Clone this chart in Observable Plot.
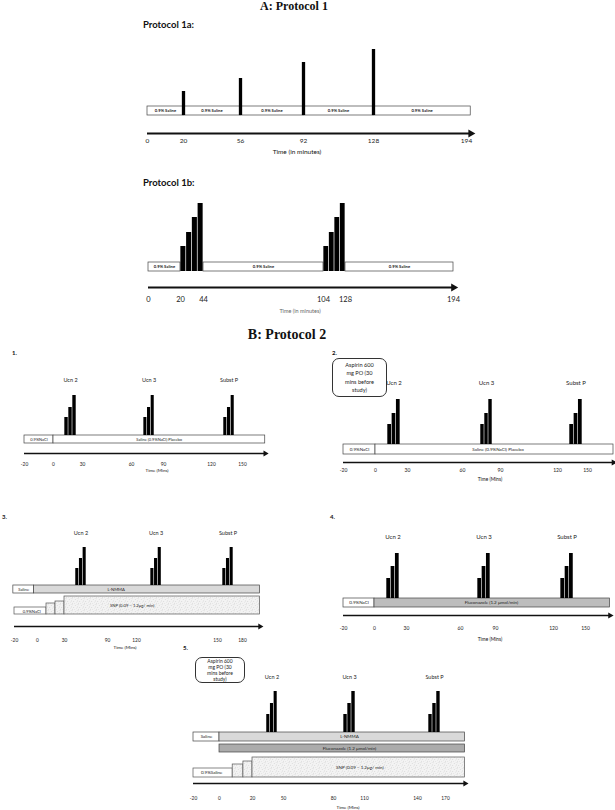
<!DOCTYPE html>
<html><head><meta charset="utf-8">
<script src="https://cdn.jsdelivr.net/npm/d3@7"></script>
<script src="https://cdn.jsdelivr.net/npm/@observablehq/plot@0.6"></script>
<style>
body{margin:0;background:#fff;}
#root{position:relative;width:615px;height:810px;overflow:hidden;background:#fff;font-family:Lato,"Open Sans",sans-serif;color:#111;}
.lbl{position:absolute;white-space:nowrap;transform:translate(-50%,-50%);line-height:1;}
.lbl.left{transform:translate(0,-50%);}
.ann{position:absolute;box-sizing:border-box;border:0.9px solid #333;border-radius:7px;display:flex;align-items:center;justify-content:center;text-align:center;color:#222;}
</style></head><body><div id="root"></div>
<script>
// ================= DATA =================
// Protocol 1a
const p1aTicks = [0, 20, 56, 92, 128, 194];
const p1aBolusTimes = [20, 56, 92, 128];
const p1aBolusHeights = [15, 28, 44, 57];
const p1aSalineBreaks = [0, 20, 56, 92, 128, 197];
const salineLabel = "0.9% Saline";
// Protocol 1b
const p1bTicks = [0, 20, 44, 104, 128, 194];
const p1bBlockStarts = [20, 104];
const p1bStepHeights = [16, 30, 45, 59];
const p1bStepMinutes = 6;
const p1bSalineSegments = [[0, 20], [44, 104], [128, 194]];
// Protocol 2
const agents = ["Ucn 2", "Ucn 3", "Subst P"];
const ticksB = [-20, 0, 30, 60, 90, 120, 150];
const ticks3 = [-20, 0, 30, 90, 120, 150, 180];
const ticks5 = [-20, 0, 20, 50, 80, 110, 140, 170];
// panel 1
const b1Groups = [[11.4, 23.8], [71.3, 81.6], [131.6, 142.3]];
const b1Heights = [18, 28, 40];
const b1Rows = [["0.9%NaCl", -20, 0], ["Saline (0.9%NaCl) Placebo", 0, 172]];
// panel 2
const b2Groups = [[11.25, 23.4], [74.2, 83.7], [132, 145]];
const b2Heights = [20, 31, 45];
const b2Rows = [["0.9%NaCl", -20, 0], ["Saline (0.9%NaCl) Placebo", 0, 176]];
// panel 3
const b3Groups = [[45.3, 60.7], [125.2, 129.3], [156, 169.2]];
const b3Heights = [17, 27, 38];
const b3Infusion = [["Saline", -21, -3], ["L-NMMA", -3, 201]];
const b3Snp = [["0.9%NaCl", -20, 10, 0], ["", 10, 20, 1], ["", 20, 30, 2], ["SNP (0.09 \u2013 1.2\u03bcg/ min)", 30, 201, 3]];
// panel 4
const b4Groups = [[11.25, 23.4], [74.6, 85.7], [126.6, 138.8]];
const b4Heights = [20, 32, 45];
const b4Rows = [["0.9%NaCl", -20, 0], ["Fluconazole (1.2 \u03bcmol/min)", 0, 173]];
// panel 5
const b5Groups = [[33.5, 44.2], [89.7, 101.3], [151.8, 164.6]];
const b5Heights = [18, 29, 41];
const b5Infusion = [["Saline", -20, 0], ["L-NMMA", 0, 191]];
const b5Fluconazole = [["Fluconazole (1.2 \u03bcmol/min)", 0, 191]];
const b5Snp = [["0.9%Saline", -20, 8, 0], ["", 8, 14.5, 1], ["", 14.5, 20, 2], ["SNP (0.09 \u2013 1.2\u03bcg/ min)", 20, 191, 3]];
const aspirinText = "Aspirin 600\nmg PO (30\nmins before\nstudy)";

// ================= HELPERS =================
const root = document.getElementById("root");
const FONT = "Lato, 'Open Sans', sans-serif";

function label(text, x, y, size, opts = {}) {
  const d = document.createElement("div");
  d.className = "lbl" + (opts.left ? " left" : "");
  d.textContent = text;
  d.style.left = x + "px"; d.style.top = y + "px";
  d.style.fontSize = size + "px";
  d.style.fontWeight = opts.bold ? "bold" : "normal";
  d.style.fontFamily = opts.serif ? "'Liberation Serif','DejaVu Serif',serif" : FONT;
  if (opts.color) d.style.color = opts.color;
  root.appendChild(d);
}
function annotation(text, left, top, w, h, size, lh) {
  const d = document.createElement("div");
  d.className = "ann";
  Object.assign(d.style, {left: left + "px", top: top + "px", width: w + "px", height: h + "px", fontSize: size + "px", lineHeight: lh + "px"});
  d.innerHTML = text.split("\n").join("<br>");
  root.appendChild(d);
}
function addStipple(svg, id) {
  const defs = d3.select(svg).insert("defs", ":first-child");
  const p = defs.append("pattern").attr("id", id).attr("width", 6).attr("height", 6).attr("patternUnits", "userSpaceOnUse");
  p.append("rect").attr("width", 6).attr("height", 6).attr("fill", "#f3f3f3");
  [[0.6,0.8],[3.2,1.6],[5.1,0.4],[1.8,3.4],[4.4,4.1],[0.4,5.2],[2.7,5.6],[5.5,2.9]].forEach(([cx, cy], i) =>
    p.append("circle").attr("cx", cx).attr("cy", cy).attr("r", 0.35).attr("fill", i % 2 ? "#b0b0b0" : "#c8c8c8"));
}
function drawPanel({left, top, width, height, base, ticks, px, marks}) {
  const svg = Plot.plot({
    width, height, margin: 0,
    style: {background: "transparent", overflow: "visible", fontFamily: FONT},
    x: {type: "linear", domain: ticks, range: px.map(p => p - left), axis: null},
    y: {type: "linear", domain: [base - (top + height), base - top], range: [height, 0], axis: null},
    marks
  });
  Object.assign(svg.style, {position: "absolute", left: left + "px", top: top + "px"});
  root.appendChild(svg);
  return svg;
}
function timeAxis(span, ticks, ay, ty, lw, tri, fs) {
  return [
    Plot.ruleY([span], {y: () => ay, x1: d => d[0], x2: d => d[1], stroke: "#111", strokeWidth: lw}),
    Plot.dot([span], {x: d => d[1], y: () => ay, symbol: "triangle", r: tri, fill: "#111", stroke: "none", rotate: 90}),
    Plot.text(ticks, {x: d => d, y: () => ty, text: d => String(d), fontSize: fs, fill: "#222"})
  ];
}
function doseBars(groups, heights) {
  const out = [];
  groups.forEach(([s, e], g) => {
    const w = (e - s) / heights.length;
    heights.forEach((h, i) => out.push({x1: s + i * w, x2: s + (i + 1) * w, h, g}));
  });
  return out;
}
function rowMarks(rows, y1, y2, fills, fs, weight = "normal") {
  const data = rows.map(([text, a, b], i) => ({text, a, b, fill: fills[i]}));
  return [
    Plot.rect(data, {x1: "a", x2: "b", y1: () => y1, y2: () => y2, fill: "fill", stroke: "#444", strokeWidth: 0.7}),
    Plot.text(data, {x: d => (d.a + d.b) / 2, y: () => (y1 + y2) / 2, text: "text", fontSize: fs, fontWeight: weight, fill: "#222"})
  ];
}
function groupMarks(groups, heights, y1, labelY, fs) {
  return [
    Plot.rect(doseBars(groups, heights), {x1: "x1", x2: "x2", y1: () => y1, y2: "h", fill: "#000", insetLeft: 0.3, insetRight: 0.3}),
    Plot.text(agents, {x: (d, i) => (groups[i][0] + groups[i][1]) / 2, y: () => labelY, text: d => d, fontSize: fs, fill: "#222"})
  ];
}

// ================= PROTOCOL 1 =================
label("A: Protocol 1", 294, 6, 12, {bold: true, serif: true});
label("Protocol 1a:", 143, 25, 9.5, {bold: true, left: true});

const p1aSegs = p1aSalineBreaks.slice(0, -1).map((a, i) => [salineLabel, a, p1aSalineBreaks[i + 1]]);
drawPanel({
  left: 135, top: 40, width: 345, height: 110, base: 106,
  ticks: p1aTicks, px: [147, 183, 240, 303, 373, 466],
  marks: [
    ...rowMarks(p1aSegs, -9, 0, p1aSegs.map(() => "white"), 4.2, "bold"),
    Plot.ruleX(p1aBolusTimes.map((t, i) => ({t, h: p1aBolusHeights[i]})), {x: "t", y1: () => -9, y2: "h", stroke: "#000", strokeWidth: 3.3}),
    ...timeAxis([p1aTicks[0], p1aSalineBreaks[p1aSalineBreaks.length - 1]], p1aTicks, -27, -34.5, 2, 3, 6.5)
  ]
});
label("Time (in minutes)", 297, 152, 6.5);

label("Protocol 1b:", 143, 183, 9.5, {bold: true, left: true});
const p1bBars = [];
p1bBlockStarts.forEach(s => p1bStepHeights.forEach((h, i) => p1bBars.push({x1: s + i * p1bStepMinutes, x2: s + (i + 1) * p1bStepMinutes, h})));
const p1bSegs = p1bSalineSegments.map(([a, b]) => [salineLabel, a, b]);
drawPanel({
  left: 135, top: 195, width: 345, height: 115, base: 262,
  ticks: p1bTicks, px: [148, 180, 203, 323, 345, 453],
  marks: [
    ...rowMarks(p1bSegs, -9, 0, p1bSegs.map(() => "white"), 4.2, "bold"),
    Plot.rect(p1bBars, {x1: "x1", x2: "x2", y1: () => -9, y2: "h", fill: "#000", insetLeft: 0.35, insetRight: 0.35}),
    ...timeAxis([p1bTicks[0], p1bTicks[p1bTicks.length - 1]], p1bTicks, -25, -37.5, 2, 3, 7.5)
  ]
});
label("Time (in minutes)", 300, 312, 5.5, {color: "#666"});

// ================= PROTOCOL 2 =================
label("B: Protocol 2", 287, 335, 14, {bold: true, serif: true});

// panel 1
label("1.", 12, 353, 6, {bold: true, left: true});
drawPanel({
  left: 0, top: 370, width: 300, height: 105, base: 435,
  ticks: ticksB, px: [24, 53, 82, 131, 163, 211, 242],
  marks: [
    ...rowMarks(b1Rows, -8, 0, ["white", "white"], 4),
    ...groupMarks(b1Groups, b1Heights, 0, 55, 5.5),
    ...timeAxis([ticksB[0], b1Rows[1][2]], ticksB, -18, -28.5, 1.4, 2.2, 4.8)
  ]
});
label("Time (Mins)", 157, 471, 4.5);

// panel 2
label("2.", 332, 353, 6, {bold: true, left: true});
annotation(aspirinText, 332, 358, 55, 39, 5.6, 8.5);
drawPanel({
  left: 300, top: 370, width: 315, height: 115, base: 444,
  ticks: ticksB, px: [343, 375, 407, 462, 500, 557, 587],
  marks: [
    ...rowMarks(b2Rows, -10, 0, ["white", "white"], 4.5),
    ...groupMarks(b2Groups, b2Heights, 0, 61, 6),
    ...timeAxis([ticksB[0], b2Rows[1][2]], ticksB, -18, -25.5, 1.5, 2.3, 5)
  ]
});
label("Time (Mins)", 490, 479, 4.8);

// panel 3
label("3.", 2, 517, 6, {bold: true, left: true});
const snpFills3 = ["white", "url(#stip3)", "url(#stip3)", "url(#stip3)"];
const snp3 = b3Snp.map(([text, a, b, step], i) => ({text, a, b, top: [-22, -18, -16, -11][step], fill: snpFills3[i]}));
const svg3 = drawPanel({
  left: 0, top: 520, width: 275, height: 135, base: 585,
  ticks: ticks3, px: [14, 37, 64, 107, 136, 217, 242],
  marks: [
    ...rowMarks(b3Infusion, -8, 0, ["white", "#d9d9d9"], 4.2),
    Plot.rect(snp3, {x1: "a", x2: "b", y1: () => -29, y2: "top", fill: "fill", stroke: "#555", strokeWidth: 0.7}),
    Plot.text(snp3.filter(d => d.text), {x: d => (d.a + d.b) / 2, y: d => (d.top - 29) / 2 + (d.a < 0 ? -1 : 0), text: "text", fontSize: 4.2, fill: "#222"}),
    ...groupMarks(b3Groups, b3Heights, 0, 52, 5.5),
    ...timeAxis([ticks3[0], b3Infusion[1][2]], ticks3, -41, -55, 1.4, 2.2, 4.8)
  ]
});
addStipple(svg3, "stip3");
label("Time (Mins)", 125, 648, 4.5);

// panel 4
label("4.", 330, 517, 6, {bold: true, left: true});
drawPanel({
  left: 300, top: 525, width: 315, height: 125, base: 598,
  ticks: ticksB, px: [343, 374, 406, 460, 495, 553, 585],
  marks: [
    ...rowMarks(b4Rows, -9, 0, ["white", "#bdbdbd"], 4.5),
    ...groupMarks(b4Groups, b4Heights, 0, 61, 6),
    ...timeAxis([ticksB[0], b4Rows[1][2]], ticksB, -17, -30, 1.5, 2.3, 5)
  ]
});
label("Time (Mins)", 490, 639, 4.8);

// panel 5
label("5.", 183, 648, 6, {bold: true, left: true});
annotation(aspirinText, 195, 657, 50, 26, 5, 6);
const snpFills5 = ["white", "url(#stip5)", "url(#stip5)", "url(#stip5)"];
const snp5 = b5Snp.map(([text, a, b, step], i) => ({text, a, b, top: [-36, -32, -29, -25][step], fill: snpFills5[i]}));
const svg5 = drawPanel({
  left: 175, top: 660, width: 325, height: 150, base: 732,
  ticks: ticks5, px: [193, 219, 252, 283, 333, 364, 417, 445],
  marks: [
    ...rowMarks(b5Infusion, -9, 0, ["white", "#d9d9d9"], 4.5),
    ...rowMarks(b5Fluconazole, -20, -12, ["#ababab"], 4.5),
    Plot.rect(snp5, {x1: "a", x2: "b", y1: () => -45, y2: "top", fill: "fill", stroke: "#555", strokeWidth: 0.7}),
    Plot.text(snp5.filter(d => d.text), {x: d => (d.a + d.b) / 2, y: d => (d.top - 45) / 2, text: "text", fontSize: 4.5, fill: "#222"}),
    ...groupMarks(b5Groups, b5Heights, 0, 55, 5.5),
    ...timeAxis([ticks5[0], b5Infusion[1][2]], ticks5, -51, -66, 1.4, 2.2, 4.8)
  ]
});
addStipple(svg5, "stip5");
label("Time (Mins)", 348, 808, 4.5);
</script></body></html>
